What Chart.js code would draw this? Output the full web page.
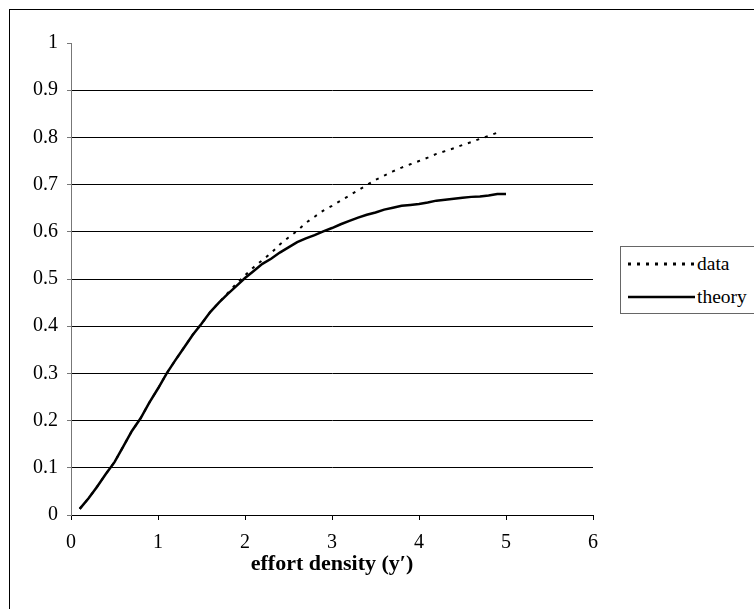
<!DOCTYPE html>
<html>
<head>
<meta charset="utf-8">
<script src="https://cdn.jsdelivr.net/npm/chart.js@4/dist/chart.umd.min.js"></script>
<style>
  body { margin: 0; background: #fff; }
  #wrap { position: relative; width: 754px; height: 609px; overflow: hidden; }
  #frame { position: absolute; left: 9px; top: 9px; width: 800px; height: 640px; border: 1px solid #000; }
  #chartBox { position: absolute; left: 0; top: 0; width: 754px; height: 609px; }
  #legend {
    position: absolute; left: 620px; top: 246px; width: 160px; height: 66px;
    border: 1px solid #666; background: #fff;
    font-family: "Liberation Serif", "Times New Roman", serif; font-size: 19.5px; color: #000;
  }
  .row { position: absolute; left: 7px; height: 22px; display: flex; align-items: center; }
  .row svg { display: block; }
  .row span { margin-left: 2px; }
</style>
</head>
<body>
<div id="wrap">
  <div id="frame"></div>
  <div id="chartBox"><canvas id="chart"></canvas></div>
  <div id="legend">
    <div class="row" style="top:6px"><svg width="67" height="4"><line x1="0" y1="2" x2="67" y2="2" stroke="#000" stroke-width="3" stroke-dasharray="3,6"/></svg><span>data</span></div>
    <div class="row" style="top:39px"><svg width="67" height="4"><line x1="0" y1="2" x2="67" y2="2" stroke="#000" stroke-width="2.5"/></svg><span>theory</span></div>
  </div>
</div>
<script>
// effort density (x values, step 0.1)
const xTheory = [0.1,0.2,0.3,0.4,0.5,0.6,0.7,0.8,0.9,1.0,1.1,1.2,1.3,1.4,1.5,1.6,1.7,1.8,1.9,2.0,
  2.1,2.2,2.3,2.4,2.5,2.6,2.7,2.8,2.9,3.0,3.1,3.2,3.3,3.4,3.5,3.6,3.7,3.8,3.9,4.0,
  4.1,4.2,4.3,4.4,4.5,4.6,4.7,4.8,4.9,5.0];
const theoryValues = [0.013,0.035,0.060,0.087,0.112,0.145,0.178,0.205,0.238,0.268,
  0.300,0.328,0.355,0.382,0.405,0.430,0.450,0.468,0.485,0.502,
  0.517,0.532,0.543,0.556,0.567,0.578,0.586,0.593,0.601,0.608,
  0.616,0.623,0.630,0.636,0.641,0.647,0.651,0.655,0.657,0.659,
  0.662,0.666,0.668,0.670,0.672,0.674,0.675,0.677,0.680,0.680];

const xData = xTheory.slice(0, 49);
const dataValues = [0.013,0.035,0.060,0.087,0.112,0.145,0.178,0.205,0.238,0.268,
  0.300,0.328,0.355,0.382,0.405,0.430,0.450,0.470,0.490,0.508,
  0.525,0.540,0.555,0.573,0.588,0.602,0.619,0.632,0.645,0.655,
  0.666,0.677,0.688,0.699,0.710,0.719,0.728,0.736,0.743,0.750,
  0.757,0.765,0.771,0.777,0.784,0.790,0.797,0.803,0.810];

const xTicks = [0, 1, 2, 3, 4, 5, 6];
const yTicks = [0, 0.1, 0.2, 0.3, 0.4, 0.5, 0.6, 0.7, 0.8, 0.9, 1];

const serif = "'Liberation Serif', 'Times New Roman', serif";

new Chart(document.getElementById('chart'), {
  type: 'line',
  data: {
    datasets: [
      {
        label: 'data',
        data: xData.map((x, i) => ({ x: x, y: dataValues[i] })),
        borderColor: '#000',
        borderWidth: 2,
        borderDash: [3, 6],
        pointRadius: 0,
        tension: 0,
        fill: false
      },
      {
        label: 'theory',
        data: xTheory.map((x, i) => ({ x: x, y: theoryValues[i] })),
        borderColor: '#000',
        borderWidth: 2.5,
        pointRadius: 0,
        tension: 0,
        fill: false
      }
    ]
  },
  options: {
    responsive: true,
    maintainAspectRatio: false,
    animation: false,
    layout: { padding: { top: 43, right: 161, left: 0, bottom: 0 } },
    plugins: {
      legend: { display: false },
      tooltip: { enabled: false }
    },
    scales: {
      x: {
        type: 'linear',
        min: 0,
        max: 6,
        afterBuildTicks: scale => { scale.ticks = xTicks.map(v => ({ value: v })); },
        afterFit: scale => { scale.height = 94; },
        grid: { drawOnChartArea: false, drawTicks: true, tickLength: 5, tickColor: '#000' },
        border: { color: '#000', width: 1 },
        ticks: { color: '#000', font: { family: serif, size: 20 }, padding: 11, maxRotation: 0 },
        title: {
          display: true,
          text: 'effort density (y′)',
          color: '#000',
          font: { family: serif, size: 22, weight: 'bold' },
          padding: { top: 8, bottom: 31 }
        }
      },
      y: {
        type: 'linear',
        min: 0,
        max: 1,
        afterBuildTicks: scale => { scale.ticks = yTicks.map(v => ({ value: v })); },
        afterFit: scale => { scale.width = 71; },
        grid: {
          color: ctx => (ctx.tick && ctx.tick.value === 1) ? 'rgba(0,0,0,0)' : '#000',
          tickColor: '#777',
          tickLength: 4,
          lineWidth: 1
        },
        border: { color: '#777', width: 1 },
        ticks: {
          color: '#000',
          font: { family: serif, size: 20 },
          padding: 9,
          callback: v => String(Math.round(v * 10) / 10)
        }
      }
    }
  }
});
</script>
</body>
</html>
